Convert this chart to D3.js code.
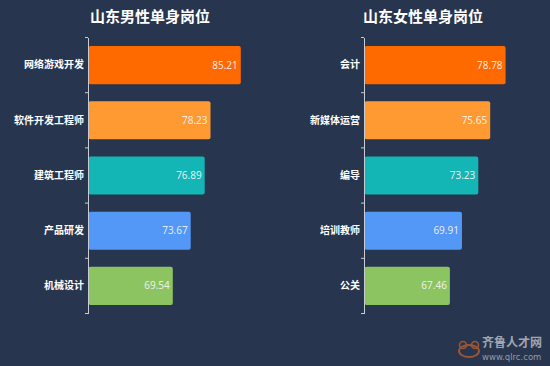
<!DOCTYPE html>
<html>
<head>
<meta charset="utf-8">
<script src="https://cdn.jsdelivr.net/npm/d3@7"></script>
<style>
    html, body { margin: 0; padding: 0; background: #28354f; }
    svg { display: block; font-family: "Noto Sans CJK SC", "Noto Sans", sans-serif; }
</style>
</head>
<body>
<svg id="chart"></svg>
<script>
// данные
const maleTitle = "山东男性单身岗位";
const maleJobs = ["网络游戏开发", "软件开发工程师", "建筑工程师", "产品研发", "机械设计"];
const maleValues = [85.21, 78.23, 76.89, 73.67, 69.54];

const femaleTitle = "山东女性单身岗位";
const femaleJobs = ["会计", "新媒体运营", "编导", "培训教师", "公关"];
const femaleValues = [78.78, 75.65, 73.23, 69.91, 67.46];

const barColors = ["#ff6a00", "#ff9a33", "#14b5b5", "#5397f7", "#8dc462"];

const width = 550, height = 366;

const svg = d3.select("#chart")
    .attr("width", width)
    .attr("height", height);

svg.append("rect")
    .attr("width", width)
    .attr("height", height)
    .attr("fill", "#28354f");

function drawPanel(title, jobs, values, opt) {
    const g = svg.append("g");

    const y = d3.scaleBand()
        .domain(jobs)
        .range([37.5, 313.5])
        .paddingInner(0.31)
        .paddingOuter(0.155);

    const x = d3.scaleLinear()
        .domain([50, 90])
        .range([opt.axisX, opt.axisX + opt.pxPerUnit * 40]);

    // заголовок
    g.append("text")
        .attr("x", opt.titleX)
        .attr("y", 22)
        .attr("text-anchor", "middle")
        .attr("fill", "#ffffff")
        .style("font-size", "15px")
        .style("font-weight", "bold")
        .text(title);

    // бары
    g.selectAll("rect.bar")
        .data(jobs)
        .enter()
        .append("rect")
        .attr("class", "bar")
        .attr("x", x(50) + 0.5)
        .attr("y", d => y(d))
        .attr("width", (d, i) => x(values[i]) - x(50) - 0.5)
        .attr("height", y.bandwidth())
        .attr("rx", 2)
        .attr("fill", (d, i) => barColors[i]);

    // подписи значений
    g.selectAll("text.val")
        .data(jobs)
        .enter()
        .append("text")
        .attr("class", "val")
        .attr("x", (d, i) => x(values[i]) - 3)
        .attr("y", d => y(d) + y.bandwidth() / 2)
        .attr("dy", "0.35em")
        .attr("text-anchor", "end")
        .attr("fill", "#f4f4f4")
        .attr("fill-opacity", 0.92)
        .style("font-size", "10px")
        .style("font-family", "'Noto Sans', sans-serif")
        .text((d, i) => values[i].toFixed(2));

    // ось Y
    const yAxis = d3.axisLeft(y)
        .tickSize(0)
        .tickPadding(4)
        .tickSizeOuter(0);
    const ax = g.append("g")
        .attr("transform", "translate(" + x(50) + ",0)")
        .call(yAxis);
    ax.select(".domain")
        .attr("stroke", "#c8ccd4")
        .attr("stroke-width", 1);
    ax.selectAll("text")
        .attr("fill", "#ffffff")
        .style("font-size", "10px")
        .style("font-weight", "bold")
        .style("font-family", "'Noto Sans CJK SC', sans-serif");

    // засечки на границах полос
    const bounds = [y.range()[0]].concat(jobs.map(d => y(d) + y.bandwidth() + y.step() * y.paddingInner() / 2));
    bounds[bounds.length - 1] = y.range()[1];
    g.selectAll("line.tick-b")
        .data(bounds)
        .enter()
        .append("line")
        .attr("class", "tick-b")
        .attr("x1", x(50) - 3)
        .attr("x2", x(50))
        .attr("y1", d => d)
        .attr("y2", d => d)
        .attr("stroke", "#c8ccd4");
}

drawPanel(maleTitle, maleJobs, maleValues, {axisX: 88, pxPerUnit: 4.34, titleX: 150});
drawPanel(femaleTitle, femaleJobs, femaleValues, {axisX: 364, pxPerUnit: 4.92, titleX: 423});

// водяной знак
const wm = svg.append("g").attr("opacity", 0.75);
wm.append("ellipse")
    .attr("cx", 469).attr("cy", 351)
    .attr("rx", 10).attr("ry", 6)
    .attr("fill", "none")
    .attr("stroke", "#c0622a")
    .attr("stroke-width", 2);
wm.append("circle").attr("cx", 463).attr("cy", 345).attr("r", 3.5).attr("fill", "none").attr("stroke", "#c0622a").attr("stroke-width", 1.6);
wm.append("circle").attr("cx", 475).attr("cy", 345).attr("r", 3.5).attr("fill", "none").attr("stroke", "#c0622a").attr("stroke-width", 1.6);
wm.append("text")
    .attr("x", 482).attr("y", 347)
    .attr("fill", "#c9ccd2")
    .style("font-size", "12px")
    .style("font-weight", "bold")
    .text("齐鲁人才网");
wm.append("text")
    .attr("x", 482).attr("y", 360)
    .attr("fill", "#b8bcc4")
    .style("font-size", "8.5px")
    .style("font-family", "'DejaVu Sans', sans-serif")
    .text("www.qlrc.com");
</script>
</body>
</html>
